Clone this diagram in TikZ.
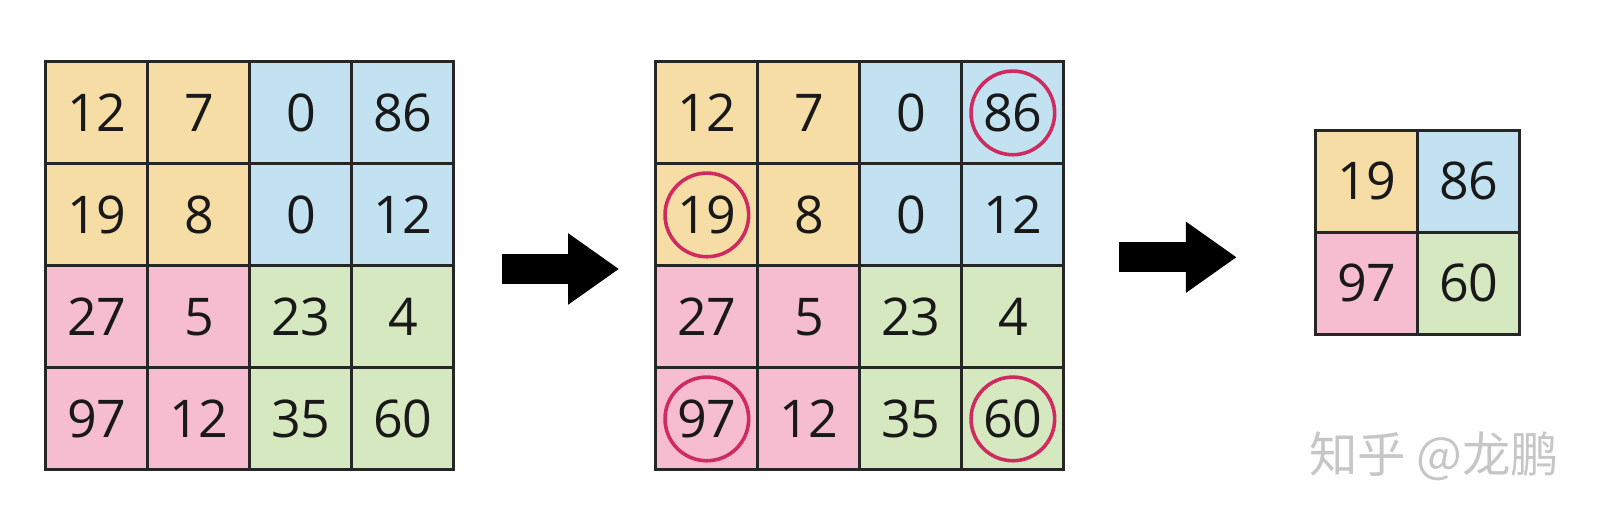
\documentclass[tikz,border=0pt]{standalone}
\usepackage{fontspec}
\setmainfont{Open Sans}
\newfontfamily\cjk{Noto Sans CJK SC}
\usetikzlibrary{arrows.meta, positioning}

\definecolor{w0}{HTML}{F5DDA5}
\definecolor{w1}{HTML}{C2E2F2}
\definecolor{w2}{HTML}{F6BCD0}
\definecolor{w3}{HTML}{D5E8C0}
\definecolor{garis}{HTML}{262626}
\definecolor{merah}{HTML}{D02B60}
\definecolor{abu}{HTML}{C6C6C6}

\tikzset{
  sel/.style={draw=garis, line width=1.7pt, minimum size=2cm, inner sep=0pt,
    text=black!90, font=\fontsize{29}{34}\selectfont},
  lingkar/.style={draw=merah, line width=2pt},
  panah/.style={line width=0.58cm, -{Triangle[length=1cm, width=1.33cm]}}
}

\begin{document}
\begin{tikzpicture}
  \useasboundingbox (0,0) rectangle (31.314,10.314);

  % Matriks masukan (kiri dan tengah)
  \foreach \g/\gx in {a/0.9, b/12.86} {
    \foreach \v [count=\i from 0] in {12,7,0,86,19,8,0,12,27,5,23,4,97,12,35,60} {
      \pgfmathtruncatemacro\baris{int(\i/4)}
      \pgfmathtruncatemacro\kolom{mod(\i,4)}
      \pgfmathtruncatemacro\q{2*int(\baris/2)+int(\kolom/2)}
      \node[sel, fill=w\q] (\g-\baris-\kolom) at (\gx+1+2*\kolom, 8.1-2*\baris) {\v};
    }
  }

  % Nilai maksimum
  \foreach \s in {b-0-3, b-1-0, b-3-0, b-3-3}
    \draw[lingkar] (\s) circle (0.82cm);

  % Hasil max pooling
  \foreach \v [count=\i from 0] in {19,86,97,60} {
    \pgfmathtruncatemacro\baris{int(\i/2)}
    \pgfmathtruncatemacro\kolom{mod(\i,2)}
    \node[sel, fill=w\i] (c-\baris-\kolom) at (26.8+2*\kolom, 6.76-2*\baris) {\v};
  }

  % Panah
  \coordinate (p1) at (9.84,5.04);
  \coordinate (q1) at (12.14,5.04);
  \coordinate (p2) at (21.94,5.27);
  \coordinate (q2) at (24.25,5.27);
  \draw[panah] (p1) -- (q1);
  \draw[panah] (p2) -- (q2);

  % Tanda air
  \node[font=\cjk\fontsize{27}{32}\selectfont, text=abu] (wm) at (28.12,1.37) {知乎 @龙鹏};
\end{tikzpicture}
\end{document}
